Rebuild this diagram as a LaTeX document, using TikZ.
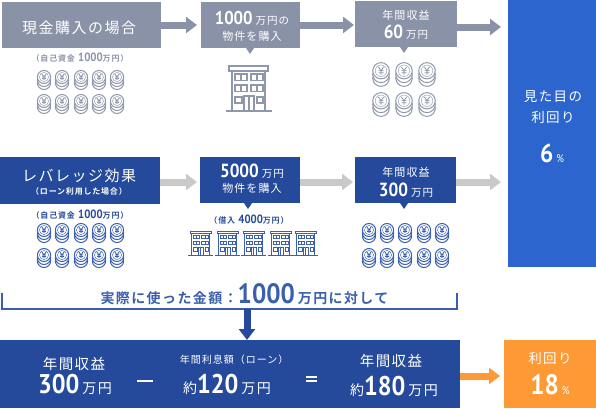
\documentclass[tikz,border=0pt]{standalone}
\usepackage{fontspec}
\usetikzlibrary{arrows.meta}
\newfontfamily\jpf[LetterSpace=10,BoldFont={Noto Sans CJK JP Bold}]{Noto Sans CJK JP}
\newfontfamily\dgf[FakeStretch=0.9]{PT Sans}
\newcommand\jt[2]{{\fontsize{#1}{#1}\selectfont\jpf #2}}
\newcommand\jb[2]{{\fontsize{#1}{#1}\selectfont\jpf\bfseries #2}}
\newcommand\dg[2]{{\fontsize{#1}{#1}\selectfont\dgf #2}}
\newcommand\db[2]{{\fontsize{#1}{#1}\selectfont\dgf\bfseries #2}}
\newcommand\gp{\kern3pt}
\definecolor{grayb}{HTML}{8A92A8}
\definecolor{navy}{HTML}{254A9B}
\definecolor{bright}{HTML}{2B65CD}
\definecolor{orng}{HTML}{FE9A35}
\definecolor{lgray}{HTML}{C9C9C9}
\definecolor{coing}{HTML}{8F97AB}
\definecolor{coinb}{HTML}{3A5FAE}
\tikzset{
  boxn/.style={draw=none,inner sep=0,outer sep=0,anchor=north west},
  txt/.style={inner sep=0,outer sep=0,anchor=center,text=white},
  fat/.style={line width=7pt,-{Triangle[length=11pt,width=16pt]},shorten >=0pt},
  pics/coin/.style={code={
    \begin{scope}[draw=cc,fill=white,line width=1pt]
      \filldraw (0,13) ellipse (6.6 and 6.5);
      \filldraw (0,10) ellipse (6.6 and 6.5);
      \filldraw (0,7) ellipse (6.6 and 6.5);
      \draw[line width=.4pt] (0,7) ellipse (4.6 and 4.6);
      \draw[line width=.8pt] (-2.2,3.8) -- (0,7) -- (2.2,3.8) (0,7) -- (0,10.2) (-2,7) -- (2,7) (-2,8.6) -- (2,8.6);
    \end{scope}}},
  pics/bldg/.style={code={
    \begin{scope}[draw=cc,line width=\bw,fill=white]
      \draw (3,5) rectangle (36,45);
      \draw (0,0) rectangle (39,5);
      \draw (-3,45) -- (43,45);
      \foreach \yy in {8,19}{
        \draw (6,\yy) rectangle (18,\yy+6.5) (12,\yy) -- (12,\yy+6.5);
        \draw (22,\yy) rectangle (34,\yy+6.5) (28,\yy) -- (28,\yy+6.5);
      }
      \draw (6,31) rectangle (13,37);
      \draw (28,31) rectangle (34,37);
      \draw (15,45) -- (15,30) -- (25,30) -- (25,45) (20,30) -- (20,45);
    \end{scope}}}
}
\begin{document}
\begin{tikzpicture}[x=1pt,y=-1pt]
\useasboundingbox (0,0) rectangle (596,408);
% boxes
\node[boxn,fill=grayb,minimum width=159pt,minimum height=46pt] (a1) at (2,2) {};
\node[boxn,fill=grayb,minimum width=99pt,minimum height=46pt] (a2) at (201,2) {};
\node[boxn,fill=grayb,minimum width=102pt,minimum height=46pt] (a3) at (355,1) {};
\node[boxn,fill=bright,minimum width=88pt,minimum height=267pt] (res) at (508,0) {};
\node[boxn,fill=navy,minimum width=160pt,minimum height=47pt] (b1) at (0,157) {};
\node[boxn,fill=navy,minimum width=100pt,minimum height=46pt] (b2) at (200,157) {};
\node[boxn,fill=navy,minimum width=101pt,minimum height=46pt] (b3) at (355,157) {};
\node[boxn,fill=navy,minimum width=460pt,minimum height=68pt] (sum) at (0,340) {};
\node[boxn,fill=orng,minimum width=92pt,minimum height=68pt] (yld) at (504,340) {};
% pointers
\fill[grayb] (246,48) -- (254,48) -- (250,54) -- cycle;
\fill[grayb] (400,47) -- (408,47) -- (404,53) -- cycle;
\fill[navy] (244,203) -- (252,203) -- (248,209) -- cycle;
\fill[navy] (400,203) -- (408,203) -- (404,209) -- cycle;
% arrows
\coordinate (t1) at (197,25);
\coordinate (t2) at (354,25);
\coordinate (t3) at (501,27);
\coordinate (t4) at (197,182);
\coordinate (t5) at (353,182);
\coordinate (t6) at (501,182);
\coordinate (t7) at (500,376);
\draw[fat,grayb] (a1.east |- t1) -- (t1);
\draw[fat,grayb] (a2.east |- t2) -- (t2);
\draw[fat,grayb] (a3.east |- t3) -- (t3);
\draw[fat,lgray] (b1.east |- t4) -- (t4);
\draw[fat,lgray] (b2.east |- t5) -- (t5);
\draw[fat,lgray] (b3.east |- t6) -- (t6);
\draw[fat,orng] (sum.east |- t7) -- (t7);
% bracket
\coordinate (bl) at (2,293);
\coordinate (br) at (457,293);
\coordinate (bm) at (247,309);
\draw[coinb,line width=1.1pt] (bl) -- (bl |- bm) -- (br |- bm) -- (br);
\draw[line width=7pt,navy,-{Triangle[length=11pt,width=16pt]}] (bm) -- (bm |- sum.north);
% coins
\colorlet{cc}{coing}
\foreach \yy in {70,94}\foreach \xx in {44,62,81,99,117}\pic at (\xx,\yy) {coin};
\begin{scope}
\foreach \yy in {62,92}\foreach \xx in {381,404,427}\pic[scale=1.25] at (\xx,\yy) {coin};
\end{scope}
\colorlet{cc}{coinb}
\foreach \yy in {223,248}\foreach \xx in {44,62,81,99,117,369,387,405,424,442}\pic at (\xx,\yy) {coin};
% buildings
\colorlet{cc}{coing}\def\bw{1.3pt}
\pic at (229,66) {bldg};
\colorlet{cc}{coinb}\def\bw{.9pt}
\foreach \xx in {190,217,243,270,295}\pic[scale=.54] at (\xx,231) {bldg};
% text
\node[txt] (ta1) at (79,28) {\jt{15}{現金購入の場合}};
\node[txt,text=grayb] (ta1s) at (80,58) {\jb{8}{（自己資金} \db{12}{1000}\jb{8}{万円）}};
\node[txt] (ta2) at (252,18) {\db{18.5}{1000}\gp\jt{10.5}{万円の}};
\node[txt] (ta2b) at (252,36) {\jt{11}{物件を購入}};
\node[txt] (ta3) at (406,15) {\jt{11}{年間収益}};
\node[txt] (ta3b) at (406,32) {\db{19}{60}\gp\jt{10.5}{万円}};
\node[txt] (tr1) at (553,97) {\jt{13.5}{見た目の}};
\node[txt] (tr2) at (553,117) {\jt{13.5}{利回り}};
\node[txt] (tr3) at (552,153) {\db{26}{6}\gp\dg{11}{\%}};
\node[txt] (tb1) at (79,176) {\jt{15}{レバレッジ効果}};
\node[txt] (tb1b) at (79,191) {\jb{8}{（ローン利用した場合）}};
\node[txt,text=navy] (tb1s) at (80,215) {\jb{8}{（自己資金} \db{12}{1000}\jb{8}{万円）}};
\node[txt] (tb2) at (252,171) {\db{19}{5000}\gp\jt{10.5}{万円}};
\node[txt] (tb2b) at (252,188) {\jt{11}{物件を購入}};
\node[txt,text=navy] (tb2s) at (249,220) {\jb{8}{（借入} \db{12}{4000}\jb{8}{万円）}};
\node[txt] (tb3) at (406,172) {\jt{11}{年間収益}};
\node[txt] (tb3b) at (406,190) {\db{19}{300}\gp\jt{10.5}{万円}};
\node[txt,text=coinb] (tm) at (244.5,294) {\jb{14}{実際に使った金額：}\db{28}{1000}\gp\jb{14}{万円に対して}};
\node[txt] (s1) at (74,364) {\jt{14.5}{年間収益}};
\node[txt] (s1b) at (75,384) {\db{27}{300}\gp\jt{14}{万円}};
\node[fill=white,inner sep=0,minimum width=16pt,minimum height=2.5pt] (minus) at (145,381) {};
\node[txt] (s2) at (234,360) {\jt{10}{年間利息額（ローン）}};
\node[txt] (s2b) at (227,384) {\jt{14}{約}\db{27}{120}\gp\jt{14}{万円}};
\node[fill=white,inner sep=0,minimum width=11pt,minimum height=1.6pt] (eq1) at (311.5,377) {};
\node[fill=white,inner sep=0,minimum width=11pt,minimum height=1.6pt] (eq2) at (311.5,381) {};
\node[txt] (s3) at (391,361) {\jt{14.5}{年間収益}};
\node[txt] (s3b) at (394,386) {\jt{14}{約}\db{27}{180}\gp\jt{14}{万円}};
\node[txt] (y1) at (550,358) {\jt{13.5}{利回り}};
\node[txt] (y2) at (550,385) {\db{28}{18}\gp\dg{11}{\%}};
\end{tikzpicture}
\end{document}
